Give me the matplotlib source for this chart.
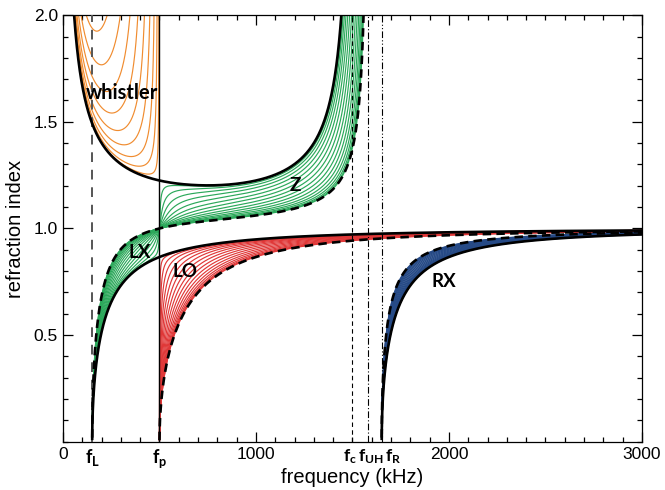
import numpy as np
import matplotlib.pyplot as plt

plt.rcParams['font.family'] = ['Liberation Sans', 'DejaVu Sans']
plt.rcParams['mathtext.fontset'] = 'custom'
plt.rcParams['mathtext.bf'] = 'Lato:bold'
plt.rcParams['mathtext.rm'] = 'Lato'

# plasma and electron gyro frequency (kHz)
f_plasma = 500.0
f_gyro = 1500.0
# wave normal angles of the thin curves (deg)
angles = [5, 10, 15, 20, 25, 30, 35, 40, 45, 50, 55, 60, 65, 70, 75, 80, 85]

x_ticks = [0, 1000, 2000, 3000]
x_ticklabels = ['0', '1000', '2000', '3000']
y_ticks = [0.5, 1.0, 1.5, 2.0]
y_ticklabels = ['0.5', '1.0', '1.5', '2.0']

mode_labels = ['whistler', 'LX', 'LO', 'Z', 'RX']
mode_label_x = [306, 399, 632, 1205, 1971]
mode_label_y = [1.633, 0.889, 0.80, 1.20, 0.753]
mode_label_size = [14.5, 13.5, 13.5, 13.5, 13.5]

# characteristic frequencies
f_L = -f_gyro / 2 + np.sqrt(f_gyro ** 2 / 4 + f_plasma ** 2)
f_R = f_gyro / 2 + np.sqrt(f_gyro ** 2 / 4 + f_plasma ** 2)
f_UH = np.sqrt(f_plasma ** 2 + f_gyro ** 2)

c_whistler = '#f08c30'
c_green = '#2ba85a'
c_red = '#e03838'
c_blue = '#264a86'

f = np.arange(0.5, 3000, 0.05) + 0.0131
X = (f_plasma / f) ** 2
Y = f_gyro / f


def refr(n2):
    n2 = np.where(n2 >= 0, n2, np.nan)
    return np.minimum(np.sqrt(n2), 3.0)


fig = plt.figure(figsize=(6.65, 4.9), dpi=100)
ax = fig.add_axes([0.0947, 0.0986, 0.8707, 0.8704])

with np.errstate(all='ignore'):
    for a in angles:
        th = np.radians(a)
        s2 = np.sin(th) ** 2
        c2 = np.cos(th) ** 2
        D = 1 - X - 0.5 * Y ** 2 * s2
        S = np.sqrt(0.25 * Y ** 4 * s2 ** 2 + (1 - X) ** 2 * Y ** 2 * c2)
        n_plus = refr(1 - X * (1 - X) / (D + S))
        n_minus = refr(1 - X * (1 - X) / (D - S))
        lo = f < f_plasma
        hi = ~lo
        ax.plot(f[lo], n_plus[lo], color=c_whistler, lw=0.85, zorder=2)
        ax.plot(f[hi], n_plus[hi], color=c_red, lw=0.85, zorder=2)
        zm = f < f_UH
        ax.plot(f[zm], n_minus[zm], color=c_green, lw=0.85, zorder=2)
        rx = f > f_R
        ax.plot(f[rx], n_minus[rx], color=c_blue, lw=1.0, zorder=2)

    # parallel (solid) and perpendicular (dashed) propagation
    n_R = refr(1 - X / (1 - Y))
    n_Lm = refr(1 - X / (1 + Y))
    n_O = refr(1 - X)
    n_X = refr(1 - X * (1 - X) / (1 - X - Y ** 2))
    rr = f < f_gyro
    ax.plot(f[rr], n_R[rr], color='black', lw=1.9, zorder=4)
    rr = f > f_gyro
    ax.plot(f[rr], n_R[rr], color='black', lw=1.9, zorder=4)
    ax.plot(f, n_Lm, color='black', lw=1.9, zorder=4)
    ax.plot(f, n_O, color='black', lw=1.9, ls=(0, (3.2, 2)), zorder=4)
    xx = f < f_UH
    ax.plot(f[xx], n_X[xx], color='black', lw=1.9, ls=(0, (3.2, 2)), zorder=4)
    xx = f > f_UH
    ax.plot(f[xx], n_X[xx], color='black', lw=1.9, ls=(0, (3.2, 2)), zorder=4)

# vertical markers
ax.axvline(f_L, color='#555555', lw=1.4, ls=(0, (5, 4)), zorder=3)
ax.axvline(f_plasma, color='black', lw=1.0, zorder=3)
ax.axvline(f_gyro, color='black', lw=0.8, ls=(0, (4, 3)), zorder=3)
ax.axvline(f_UH, color='black', lw=0.8, ls=(0, (6, 2, 1, 2)), zorder=3)
ax.axvline(f_R, color='black', lw=0.8, ls=(0, (6, 2, 1, 2, 1, 2)), zorder=3)

for txt, lx, ly, fs in zip(mode_labels, mode_label_x, mode_label_y,
                           mode_label_size):
    ax.text(lx, ly, txt, family='Lato', weight='bold', fontsize=fs,
            ha='center', va='center', zorder=6)

ax.set_xlim(0, 3000)
ax.set_ylim(0, 2.0)
ax.set_xticks(x_ticks)
ax.set_xticklabels(x_ticklabels)
ax.set_xticks(np.arange(0, 3001, 100), minor=True)
ax.set_yticks(y_ticks)
ax.set_yticklabels(y_ticklabels)
ax.set_yticks(np.arange(0, 2.01, 0.1), minor=True)
ax.tick_params(which='both', direction='in', top=True, right=True,
               labelsize=12.5, width=0.9)
ax.tick_params(which='major', length=7)
ax.tick_params(which='minor', length=3.6)
for sp in ax.spines.values():
    sp.set_linewidth(0.9)

# characteristic frequency labels under the axis
trans = ax.get_xaxis_transform()
ax.text(f_L, -0.012, r'$\mathbf{f_L}$', transform=trans, ha='center',
        va='top', fontsize=13)
ax.text(f_plasma, -0.012, r'$\mathbf{f_p}$', transform=trans, ha='center',
        va='top', fontsize=13)
ax.text(1452, -0.012, r'$\mathbf{f_c}$', transform=trans, ha='left',
        va='top', fontsize=12.5)
ax.text(1527, -0.012, r'$\mathbf{f_{UH}}$', transform=trans, ha='left',
        va='top', fontsize=12.5)
ax.text(1668, -0.012, r'$\mathbf{f_R}$', transform=trans, ha='left',
        va='top', fontsize=12.5)

ax.set_xlabel('frequency (kHz)', fontsize=14.5, labelpad=5)
ax.set_ylabel('refraction index', fontsize=14.5, labelpad=6)

fig.savefig('out.png', dpi=100)
